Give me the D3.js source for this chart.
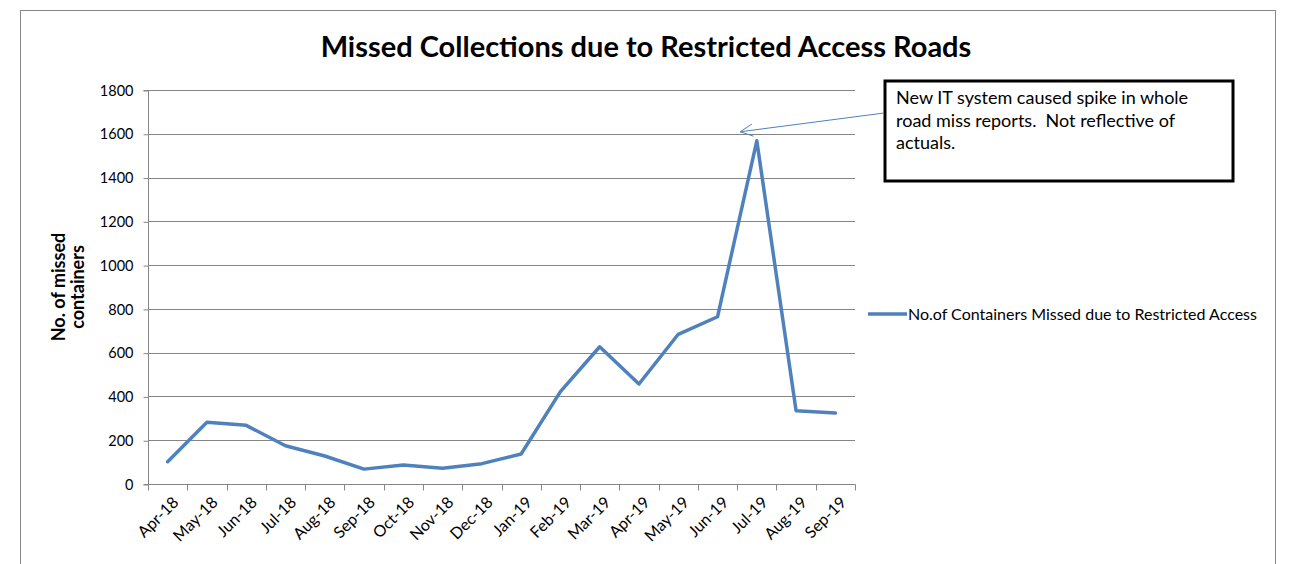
<!DOCTYPE html>
<html>
<head>
<meta charset="utf-8">
<script src="https://cdn.jsdelivr.net/npm/d3@7"></script>
<style>
  html, body { margin: 0; padding: 0; background: #fff; }
  svg { display: block; font-family: Lato, "Open Sans", sans-serif; }
</style>
</head>
<body>
<svg id="chart" width="1294" height="564"></svg>
<script>
const categories = ["Apr-18","May-18","Jun-18","Jul-18","Aug-18","Sep-18","Oct-18","Nov-18","Dec-18","Jan-19","Feb-19","Mar-19","Apr-19","May-19","Jun-19","Jul-19","Aug-19","Sep-19"];
const missedContainers = [102, 282, 268, 175, 128, 68, 87, 72, 93, 137, 422, 627, 457, 684, 764, 1568, 335, 324];
const yTicks = [0, 200, 400, 600, 800, 1000, 1200, 1400, 1600, 1800];
const seriesName = "No.of Containers Missed due to Restricted Access";
const chartTitle = "Missed Collections due to Restricted Access Roads";
const yAxisTitle = ["No. of missed", "containers"];
const annotationLines = ["New IT system caused spike in whole", "road miss reports.  Not reflective of", "actuals."];
const annotatedCategory = "Jul-19";
const annotatedValue = 1600;

const svg = d3.select("#chart");
const axisColor = "#868686";
const lineColor = "#4F81BD";

// outer chart border (bottom edge falls outside the picture)
svg.append("rect").attr("x", 20.5).attr("y", 10.5).attr("width", 1255).attr("height", 600)
  .attr("fill", "none").attr("stroke", axisColor).attr("stroke-width", 1);

const plot = { left: 148, right: 855, top: 90, bottom: 484 };

const x = d3.scaleBand().domain(categories).range([plot.left, plot.right]).padding(0);
const y = d3.scaleLinear().domain([0, 1800]).range([plot.bottom, plot.top]);

// gridlines
svg.append("g").selectAll("line").data(yTicks.filter(d => d > 0)).join("line")
  .attr("x1", plot.left).attr("x2", plot.right)
  .attr("y1", d => Math.round(y(d)) + 0.5).attr("y2", d => Math.round(y(d)) + 0.5)
  .attr("stroke", axisColor).attr("stroke-width", 1);

// y axis
const yAxis = svg.append("g").attr("transform", `translate(${plot.left + 0.5},0.5)`)
  .call(d3.axisLeft(y).tickValues(yTicks).tickSize(5).tickPadding(10).tickFormat(d3.format("d")));
yAxis.select(".domain").attr("stroke", axisColor).attr("d", `M-5,${plot.top}H0V${plot.bottom}H-5`);
yAxis.selectAll(".tick line").attr("stroke", axisColor);
yAxis.selectAll(".tick text").attr("fill", "#000").style("font-size", "14.5px").style("font-family", "Lato, sans-serif");

// x axis: ticks at category boundaries
const xAxisG = svg.append("g").attr("transform", `translate(0,${plot.bottom + 0.5})`);
xAxisG.append("line").attr("x1", plot.left).attr("x2", plot.right + 0.5).attr("y1", 0).attr("y2", 0)
  .attr("stroke", axisColor);
const boundaries = categories.map(c => x(c)).concat([x(categories[categories.length - 1]) + x.bandwidth()]);
xAxisG.selectAll("line.tk").data(boundaries).join("line").attr("class", "tk")
  .attr("x1", d => Math.round(d) + 0.5).attr("x2", d => Math.round(d) + 0.5).attr("y1", 0).attr("y2", 6)
  .attr("stroke", axisColor);
xAxisG.selectAll("text").data(categories).join("text")
  .attr("transform", d => `translate(${x(d) + x.bandwidth() / 2 + 4},${11}) rotate(-45)`)
  .attr("text-anchor", "end").attr("dy", "0.7em")
  .style("font-size", "16px").attr("fill", "#000")
  .text(d => d);

// line
const line = d3.line().x((d, i) => x(categories[i]) + x.bandwidth() / 2).y(d => y(d));
svg.append("path").datum(missedContainers).attr("d", line)
  .attr("fill", "none").attr("stroke", lineColor).attr("stroke-width", 3.5)
  .attr("stroke-linejoin", "round").attr("stroke-linecap", "round");

// title
svg.append("text").attr("x", 646).attr("y", 57).attr("text-anchor", "middle")
  .style("font-size", "29px").style("font-weight", "bold").text(chartTitle);

// y axis title
const yt = svg.append("text").attr("transform", "translate(65,287) rotate(-90)")
  .attr("text-anchor", "middle").style("font-size", "18px").style("font-weight", "bold");
yAxisTitle.forEach((t, i) => yt.append("tspan").attr("x", 0).attr("dy", i === 0 ? 0 : 19).text(t));

// legend
svg.append("line").attr("x1", 868).attr("x2", 907).attr("y1", 314).attr("y2", 314)
  .attr("stroke", lineColor).attr("stroke-width", 3.5);
svg.append("text").attr("x", 908).attr("y", 320).style("font-size", "16px").text(seriesName);

// annotation box
svg.append("rect").attr("x", 885).attr("y", 81).attr("width", 348).attr("height", 100)
  .attr("fill", "#fff").attr("stroke", "#000").attr("stroke-width", 3);
const at = svg.append("text").style("font-size", "18px")
  .attr("xml:space", "preserve").style("white-space", "pre");
annotationLines.forEach((t, i) => at.append("tspan").attr("x", 896).attr("y", 104 + i * 22.5).text(t));

// arrow from box to the spike
const tipX = x(annotatedCategory) + 3;
const tipY = y(annotatedValue) - 2;
const startX = 884, startY = 113;
svg.append("line").attr("x1", startX).attr("y1", startY).attr("x2", tipX).attr("y2", tipY)
  .attr("stroke", lineColor).attr("stroke-width", 1);
const ang = Math.atan2(startY - tipY, startX - tipX);
[0.45, -0.45].forEach(da => {
  svg.append("line").attr("x1", tipX).attr("y1", tipY)
    .attr("x2", tipX + 14 * Math.cos(ang + da)).attr("y2", tipY + 14 * Math.sin(ang + da))
    .attr("stroke", lineColor).attr("stroke-width", 1);
});
</script>
</body>
</html>
